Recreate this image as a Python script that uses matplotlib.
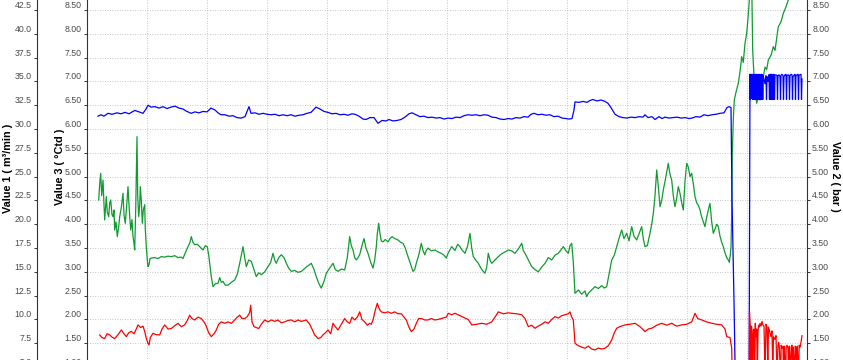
import matplotlib
matplotlib.use("Agg")
import matplotlib.pyplot as plt
from matplotlib.ticker import MultipleLocator, FormatStrFormatter

# ---------------- data (time in minutes) ----------------
# Value 2 (bar) - blue
blue_t_main = [11, 14, 17, 21, 25, 30, 34, 38, 42, 46, 48, 52, 56, 59, 61, 64, 68, 72, 76, 80,
               84, 88, 92, 96, 99, 104, 108, 112, 116, 120, 124, 128, 131, 134, 138, 142, 146, 150, 154, 158,
               162, 164, 168, 172, 176, 180, 184, 188, 192, 196, 200, 204, 208, 212, 216, 220, 224, 229, 233, 237,
               241, 245, 249, 253, 257, 261, 265, 268, 272, 276, 279, 283, 287, 291, 295, 299, 302, 306, 310, 314,
               318, 322, 325, 329, 333, 337, 341, 345, 349, 353, 357, 361, 365, 369, 373, 377, 381, 385, 389, 393,
               397, 401, 405, 409, 413, 417, 421, 425, 429, 433, 437, 441, 444, 447, 451, 455, 459, 463, 467, 471,
               475, 479, 482, 485, 487, 488, 492, 496, 500, 503, 506, 510, 514, 518, 521, 524, 528, 532, 536, 540,
               544, 548, 552, 556, 558, 561, 565, 568, 572, 575, 578, 582, 586, 590, 594, 598, 602, 605, 609, 613,
               617, 621, 625, 629, 633, 637, 640, 642, 644, 645, 647, 648, 649, 662]
blue_v_main = [6.27, 6.30, 6.27, 6.33, 6.31, 6.34, 6.32, 6.35, 6.32, 6.37, 6.39, 6.36, 6.33, 6.42, 6.50, 6.46, 6.47, 6.44, 6.47, 6.43,
               6.46, 6.48, 6.44, 6.42, 6.38, 6.33, 6.36, 6.34, 6.37, 6.36, 6.44, 6.40, 6.34, 6.30, 6.30, 6.27, 6.28, 6.24, 6.23, 6.26,
               6.47, 6.33, 6.34, 6.31, 6.33, 6.31, 6.30, 6.31, 6.28, 6.30, 6.28, 6.30, 6.27, 6.29, 6.30, 6.33, 6.35, 6.46, 6.42, 6.37,
               6.35, 6.32, 6.33, 6.30, 6.31, 6.29, 6.32, 6.31, 6.27, 6.21, 6.20, 6.24, 6.24, 6.12, 6.18, 6.17, 6.20, 6.17, 6.18, 6.20,
               6.25, 6.32, 6.34, 6.30, 6.26, 6.27, 6.24, 6.25, 6.23, 6.24, 6.21, 6.23, 6.22, 6.25, 6.24, 6.28, 6.30, 6.29, 6.30, 6.28,
               6.30, 6.29, 6.25, 6.24, 6.21, 6.20, 6.22, 6.21, 6.24, 6.23, 6.26, 6.25, 6.31, 6.33, 6.30, 6.31, 6.29, 6.30, 6.26, 6.27,
               6.23, 6.22, 6.21, 6.22, 6.40, 6.57, 6.56, 6.58, 6.56, 6.60, 6.62, 6.59, 6.61, 6.58, 6.54, 6.45, 6.31, 6.26, 6.24, 6.23,
               6.25, 6.24, 6.26, 6.25, 6.30, 6.24, 6.26, 6.20, 6.26, 6.22, 6.25, 6.23, 6.24, 6.25, 6.23, 6.24, 6.22, 6.23, 6.26, 6.25,
               6.30, 6.28, 6.30, 6.31, 6.33, 6.34, 6.45, 6.47, 6.45, 4.51, 2.40, 1.10, 0.0, 0.0]
blue_t_osc = [663.0, 663.25, 663.5, 663.75, 664.0, 664.25, 664.5, 664.75, 665.0, 665.25,
              665.5, 665.75, 666.0, 666.25, 666.5, 666.75, 667.0, 667.25, 667.5, 667.75,
              668.0, 668.25, 668.5, 668.75, 669.0, 669.25, 669.5, 669.75, 670.0, 670.25,
              670.5, 670.75, 671.0, 671.25, 671.5, 671.75, 672.0, 672.25, 672.5, 672.75,
              673.0, 673.25, 673.5, 673.75, 674.0, 674.25, 674.5, 674.75, 675.0, 675.25,
              675.5, 675.75, 676.0,
              677, 678, 679, 679.5, 680, 681, 682,
              682.5, 682.75, 683.0, 683.25, 683.5, 683.75, 684.0, 684.25, 684.5, 684.75,
              685.0, 685.25, 685.5, 685.75, 686.0, 686.25, 686.5, 686.75, 687.0, 687.25, 687.5,
              688, 689, 690, 690.5, 691, 692, 693, 693.5, 694, 695, 696, 696.5, 697, 698, 699, 699.5,
              700, 701, 702, 702.5, 703, 704, 705, 705.5, 706, 707, 708, 708.5, 709, 710, 711, 711.5,
              712, 713, 714, 714.5, 715]
blue_v_osc = [7.15, 6.62, 7.12, 6.70, 7.15, 6.64, 7.10, 6.66, 7.14, 6.80,
              7.15, 6.62, 7.12, 6.68, 7.15, 6.75, 7.13, 6.62, 7.10, 6.70,
              7.15, 6.64, 7.08, 6.62, 7.12, 6.72, 7.15, 6.62, 7.13, 6.66,
              7.10, 6.62, 7.15, 6.70, 7.12, 6.62, 7.14, 6.78, 7.10, 6.62,
              7.15, 6.66, 7.12, 6.62, 7.13, 6.74, 7.15, 6.62, 7.10, 6.68,
              7.14, 6.62, 7.12,
              7.05, 6.95, 7.12, 6.62, 7.10, 7.00, 7.14,
              6.62, 7.10, 6.64, 7.15, 6.62, 7.12, 6.68, 7.15, 6.62, 7.13,
              6.70, 7.14, 6.62, 7.12, 6.66, 7.15, 6.62, 7.10, 6.72, 7.14, 6.62,
              7.13, 7.14, 7.12, 6.62, 7.12, 7.14, 7.10, 6.62, 7.13, 7.15, 7.12, 6.62, 7.10, 7.14, 7.15, 6.62,
              7.12, 7.14, 7.13, 6.62, 7.12, 7.15, 7.14, 6.62, 7.10, 7.13, 7.15, 6.62, 7.12, 7.14, 7.15, 6.62,
              7.13, 7.14, 7.15, 6.62, 7.05]

# Value 3 (°Ctd) - green
green_t = [11.7, 12.7, 13.7, 14.7, 16, 17, 17.7, 19.3, 20.3, 21.7, 22.7, 23.7, 25, 26, 27, 27.7, 29, 30.3, 31.7, 32.7,
           34.3, 36, 37, 38.3, 39.7, 41, 42.3, 43.7, 45, 46, 47, 47.7, 48.7, 50, 50.7, 51.7, 52.7, 53.3, 54.3, 55.3,
           56.3, 57.7, 58.3, 59.3, 60.3, 61, 62, 63, 64.3, 67.7, 71, 74.3, 77.7, 81, 84.3, 87.7, 91, 94.3, 96, 98.3,
           101, 102.7, 104.3, 106, 107.7, 110.3, 112.7, 116, 118.3, 120.3, 121.7, 122.7, 124.3, 126, 128.3, 131, 132.7, 134.3, 136, 138.3,
           141, 144.3, 147.7, 150.3, 152.7, 154.3, 156, 157.7, 159.3, 161.7, 164.3, 167, 169.3, 171.7, 174.3, 177.7, 181, 183.7, 186, 187.7,
           189.3, 191.7, 194.3, 197, 199.3, 201.7, 204.3, 207.7, 211, 214.3, 219.3, 224.3, 227, 229.3, 231.7, 234.3, 237, 239.3, 242.7, 246,
           248.3, 251, 254.3, 257.7, 260.3, 262.7, 264.3, 266, 267.7, 269.3, 271, 272.7, 275, 277, 279, 281, 283.7, 286, 287.7, 289.3,
           290.3, 291.7, 293, 294.3, 296, 298.3, 301, 303, 305, 307.7, 311, 313.7, 316, 318.3, 321, 323.7, 326, 327.7, 329.3, 331.7,
           334.3, 336, 337.7, 339.3, 341, 344.3, 347.7, 351, 354.3, 357, 359.3, 361.3, 364.7, 368, 370.7, 373, 375.3, 378, 380.7, 383,
           384.7, 386.3, 388.7, 391.3, 394.7, 398, 399.7, 401.3, 403, 404.7, 408, 411.3, 414.7, 418, 421.3, 424.7, 428, 431.3, 434.7, 436.3,
           438, 441.3, 444.7, 448, 451.3, 454.7, 458, 461.3, 464.7, 468, 471.3, 474.7, 476.3, 478.7, 481.3, 483, 484.7, 486.3, 488, 491.3,
           494.7, 498, 499.7, 501.3, 504.7, 508, 511.3, 514.7, 517.3, 519.7, 522, 524.7, 527.3, 529.7, 532, 534.7, 537, 539.7, 542, 544.7,
           547, 549.7, 552, 554.7, 556.3, 558, 560.3, 563, 564.7, 566.3, 568, 569.7, 571.3, 573, 574.7, 576.3, 578, 579.7, 581.3, 583,
           584.7, 586.3, 588, 589.7, 591.3, 593, 594.7, 596.3, 598, 599.7, 601.3, 603, 604.7, 606.3, 608, 609.7, 611.3, 613, 614.7, 616.3,
           618, 619.7, 621.3, 623, 624.7, 626.3, 628, 629.7, 631.3, 633, 634.7, 636.3, 638, 639.7, 641.3, 642.3, 643.3, 644, 644.7, 645.3,
           646.3, 647.3, 649.3, 651.3, 653, 654.7, 656.3, 658, 659.7, 661.3, 663, 664.7, 665.7, 667.3, 669.7, 671.3, 673, 674.7, 676.3, 678,
           679.7, 681.3, 684, 686.3, 688, 689.7, 691.3, 694, 696.3, 698.7, 701.3, 704.7, 708, 712, 716]
green_v = [4.51, 4.85, 5.07, 4.60, 4.93, 4.40, 4.09, 4.58, 4.25, 4.16, 4.45, 4.51, 4.20, 4.16, 4.30, 3.88, 4.05, 3.74, 3.95, 4.16,
           4.35, 4.65, 4.20, 4.02, 4.40, 4.79, 4.30, 3.88, 4.10, 3.74, 3.60, 3.46, 4.30, 5.84, 4.60, 4.16, 4.40, 4.79, 4.50, 4.02,
           4.30, 4.41, 3.90, 3.53, 3.25, 3.11, 3.15, 3.28, 3.29, 3.30, 3.28, 3.32, 3.31, 3.33, 3.32, 3.34, 3.30, 3.31, 3.28, 3.40,
           3.53, 3.60, 3.74, 3.62, 3.57, 3.58, 3.53, 3.46, 3.55, 3.53, 3.35, 3.18, 2.90, 2.69, 2.75, 2.76, 2.88, 2.78, 2.80, 2.72,
           2.72, 2.78, 2.83, 2.95, 3.18, 3.35, 3.53, 3.30, 3.11, 3.25, 3.22, 3.05, 2.90, 2.98, 2.94, 3.00, 3.11, 3.20, 3.39, 3.25,
           3.18, 3.30, 3.36, 3.30, 3.18, 3.08, 3.01, 3.03, 2.99, 3.01, 3.10, 3.18, 3.05, 2.90, 2.76, 2.66, 2.80, 2.97, 3.08, 3.18,
           3.05, 3.01, 3.06, 3.04, 3.30, 3.74, 3.55, 3.46, 3.30, 3.25, 3.30, 3.36, 3.55, 3.70, 3.50, 3.39, 3.20, 3.08, 3.25, 3.53,
           3.80, 4.02, 3.80, 3.65, 3.63, 3.68, 3.63, 3.70, 3.74, 3.70, 3.67, 3.62, 3.60, 3.50, 3.32, 3.15, 3.01, 3.05, 3.18, 3.35,
           3.60, 3.45, 3.36, 3.45, 3.50, 3.44, 3.46, 3.42, 3.39, 3.35, 3.29, 3.40, 3.53, 3.45, 3.58, 3.53, 3.45, 3.39, 3.55, 3.81,
           3.50, 3.32, 3.25, 3.18, 3.05, 2.97, 3.10, 3.39, 3.25, 3.18, 3.25, 3.32, 3.38, 3.42, 3.46, 3.44, 3.39, 3.48, 3.60, 3.45,
           3.39, 3.25, 3.11, 3.05, 3.00, 3.10, 3.18, 3.30, 3.25, 3.35, 3.39, 3.48, 3.53, 3.45, 3.39, 3.55, 3.60, 3.20, 2.55, 2.62,
           2.53, 2.60, 2.48, 2.55, 2.62, 2.69, 2.65, 2.71, 2.66, 2.69, 2.95, 3.25, 3.35, 3.53, 3.70, 3.88, 3.70, 3.81, 3.65, 3.95,
           3.75, 3.67, 3.80, 3.95, 3.70, 3.53, 3.55, 3.81, 4.00, 4.23, 4.60, 5.14, 4.80, 4.37, 4.50, 4.72, 4.90, 5.10, 5.28, 5.05,
           4.93, 4.60, 4.37, 4.55, 4.79, 4.65, 4.45, 4.30, 4.90, 5.28, 5.20, 5.00, 5.07, 4.85, 4.58, 4.45, 4.40, 4.30, 4.15, 4.05,
           3.95, 4.15, 4.30, 4.44, 4.05, 3.81, 3.90, 4.00, 3.95, 3.75, 3.62, 3.53, 3.40, 3.30, 3.25, 3.20, 3.35, 3.53, 4.20, 5.49,
           6.20, 6.61, 6.80, 6.96, 7.20, 7.52, 7.40, 7.80, 8.01, 8.40, 8.90, 9.10, 7.65, 7.00, 6.54, 6.70, 6.61, 6.90, 7.10, 7.30,
           7.25, 7.45, 7.55, 7.73, 7.65, 7.90, 8.15, 8.25, 8.43, 8.55, 8.71, 8.85, 9.00, 9.10, 9.20]

# Value 1 (m³/min) - red
red_t_main = [12.7, 15, 17.7, 20, 22.7, 25, 27.7, 31, 34.3, 37, 39.3, 41.7, 44.3, 47, 49.3, 51, 53.7, 56, 57.7, 59.3,
              61, 62, 63.3, 66, 69.3, 72.7, 75, 77.7, 81, 84.3, 87.7, 91, 94.3, 97.7, 100.3, 102.7, 105, 107.7, 111, 114.3,
              117, 119.3, 121.7, 124.3, 127, 129.3, 131.7, 134.3, 137.7, 141, 144.3, 147.7, 150.3, 152.7, 155, 157.7, 160.3, 162.7, 163.7, 165,
              167, 169.3, 171.7, 174.3, 177.7, 181, 184.3, 187.7, 191, 194.3, 197.7, 201, 204.3, 207.7, 211, 214.3, 219.3, 222.7, 225, 227.7,
              231, 233.7, 236, 238.3, 241, 243.7, 246, 248.3, 251, 254.3, 257.7, 260.3, 262.7, 265, 267.7, 270.3, 272.7, 275, 277.7, 280.3,
              282.7, 284.3, 286, 288.3, 290.3, 292.3, 294.3, 297.7, 301, 304.3, 307.7, 311, 314.3, 317, 319.3, 321.7, 324.3, 327, 329.3, 331.7,
              334.3, 337.7, 341, 344.3, 347.7, 351, 354.3, 359.3, 361.3, 364.7, 368, 373, 378, 381.3, 384.7, 389.7, 394.7, 399.7, 404.7, 408,
              411.3, 416.3, 421.3, 424.7, 429.7, 434.7, 438, 441.3, 444.7, 448, 451.3, 454.7, 458, 461.3, 464.7, 468, 471.3, 474.7, 478, 481.3,
              483, 484.7, 486.3, 488, 491.3, 494.7, 498, 501.3, 504.7, 508, 511.3, 514.7, 518, 521.3, 524.7, 527.3, 529.7, 533, 538, 543,
              548, 553, 558, 561.3, 564.7, 569.7, 574.7, 579.7, 584.7, 589.7, 594.7, 599.7, 604.7, 608, 610.7, 614.7, 619.7, 624.7, 629.7, 634.7,
              638, 639.7, 643, 644.7, 646]
red_v_main = [8.38, 8.10, 8.00, 8.50, 8.38, 8.15, 8.00, 8.40, 8.90, 8.50, 8.20, 8.60, 8.75, 8.50, 9.00, 9.43, 9.15, 9.30, 8.75, 8.00,
              7.50, 7.33, 8.10, 8.55, 8.40, 8.38, 9.00, 9.43, 9.00, 9.05, 9.35, 9.60, 9.25, 9.43, 9.90, 10.45, 10.10, 9.95, 10.25, 10.10,
              9.75, 9.30, 8.60, 8.20, 8.50, 8.90, 9.50, 9.75, 9.60, 9.75, 9.60, 9.95, 10.25, 10.45, 10.10, 10.10, 10.30, 10.75, 11.50, 9.75,
              9.25, 9.15, 9.05, 9.50, 9.95, 9.75, 9.95, 9.80, 9.95, 9.65, 9.75, 9.90, 9.95, 9.75, 9.95, 9.80, 9.95, 9.50, 9.00, 8.38,
              8.00, 8.10, 8.38, 8.60, 8.90, 8.50, 9.60, 9.25, 8.90, 9.50, 10.10, 9.75, 9.60, 10.25, 9.95, 10.25, 10.80, 10.00, 9.75, 9.40,
              9.60, 9.50, 9.95, 11.00, 11.70, 11.10, 10.80, 10.70, 10.80, 10.65, 10.80, 10.60, 10.60, 10.25, 9.95, 9.25, 8.73, 9.00, 9.60, 10.10,
              10.10, 9.95, 9.95, 10.10, 9.95, 10.00, 10.10, 10.25, 10.65, 10.50, 10.65, 10.40, 10.15, 10.00, 9.43, 9.50, 9.60, 9.50, 9.75, 10.25,
              10.80, 10.60, 10.70, 10.65, 10.60, 10.50, 10.10, 9.25, 9.40, 9.08, 9.30, 9.50, 9.75, 9.60, 10.00, 10.30, 10.15, 10.40, 10.50, 10.60,
              10.80, 10.25, 9.95, 7.50, 7.25, 7.10, 6.98, 7.20, 6.90, 6.80, 7.00, 6.90, 6.98, 7.25, 7.85, 8.60, 9.08, 9.25, 9.43, 9.50,
              9.60, 9.25, 8.73, 9.00, 9.08, 9.40, 9.60, 9.40, 9.60, 9.30, 9.43, 9.50, 9.75, 10.65, 10.10, 9.95, 9.75, 9.60, 9.50, 9.43,
              9.00, 8.20, 8.10, 7.00, 0.0]
red_t_tail = [662, 662.5, 663, 663.5, 664, 664.5, 665, 665.7, 666.3, 667,
              667.6, 668.3, 669, 669.7, 670.3, 671, 671.6, 672.3, 673, 674,
              675, 676, 677, 678, 679, 680, 680.8, 681.5, 683, 684,
              685, 685.8, 686.5, 688, 689, 690, 691, 691.6, 692.3, 693.5,
              694.2, 695, 696, 696.6, 697.3, 698.5, 699.2, 700, 701, 701.6,
              702.3, 703.5, 704.2, 705, 705.6, 706.3, 707.5, 708.2, 709, 709.6,
              710.3, 711.5, 712.2, 713, 714, 715]
red_v_tail = [0.0, 10.80, 9.60, 9.20, 4.0, 9.30, 8.30, 4.0, 8.90, 9.0,
              4.0, 9.60, 8.20, 9.0, 4.0, 8.80, 9.40, 9.20, 9.60, 9.30,
              9.80, 9.40, 9.30, 4.5, 9.50, 9.20, 5.0, 9.20, 8.60, 8.20,
              8.80, 4.5, 8.20, 7.90, 8.30, 4.0, 7.30, 7.60, 7.20, 4.0,
              7.30, 7.00, 7.20, 4.0, 7.20, 4.0, 7.10, 7.30, 7.00, 4.0,
              7.20, 4.0, 7.10, 7.30, 4.0, 7.10, 4.0, 7.20, 7.00, 4.0,
              7.20, 4.0, 7.30, 7.10, 7.60, 8.30]

blue_t = blue_t_main + blue_t_osc
blue_v = blue_v_main + blue_v_osc
red_t = red_t_main + red_t_tail
red_v = red_v_main + red_v_tail

v1_ticks_step = 2.5
v23_ticks_step = 0.5

# ---------------- figure ----------------
W, H = 843, 360
fig = plt.figure(figsize=(W / 100, H / 100), dpi=100)
ax3 = fig.add_axes([87 / W, -0.08586, 720 / W, 1.12422])
ax2 = ax3.twinx()
ax1 = ax3.twinx()

grey = "#4a4a4a"
LW = 0.9

ax3.plot(green_t, green_v, color="#109a30", lw=LW)
ax2.plot(blue_t, blue_v, color="#0000ff", lw=LW)
ax1.plot(red_t, red_v, color="#ff0000", lw=LW)

for a in (ax1, ax2, ax3):
    a.set_xlim(0, 720)
    a.patch.set_visible(False)
    for s in a.spines.values():
        s.set_visible(False)

ax3.set_ylim(0.5, 9.0)
ax2.set_ylim(0.5, 9.0)
ax1.set_ylim(2.5, 45.0)

ax3.xaxis.set_major_locator(MultipleLocator(60))
ax3.grid(True, linestyle=(0, (1, 2)), color="#b4b4b4", lw=0.6)
ax3.set_axisbelow(True)

# Value 3 axis (inner left)
ax3.spines["left"].set_visible(True)
ax3.yaxis.set_major_locator(MultipleLocator(v23_ticks_step))
ax3.yaxis.set_major_formatter(FormatStrFormatter("%.2f"))

# Value 2 axis (right)
ax2.spines["right"].set_visible(True)
ax2.yaxis.set_major_locator(MultipleLocator(v23_ticks_step))
ax2.yaxis.set_major_formatter(FormatStrFormatter("%.2f"))

# Value 1 axis (outer left)
ax1.yaxis.set_ticks_position("left")
ax1.spines["left"].set_visible(True)
ax1.spines["left"].set_position(("axes", -50.3 / 720))
ax1.yaxis.set_major_locator(MultipleLocator(v1_ticks_step))
ax1.yaxis.set_major_formatter(FormatStrFormatter("%.1f"))

for a in (ax1, ax2, ax3):
    for s in a.spines.values():
        s.set_color("#333333")
        s.set_linewidth(0.8)
    a.tick_params(axis="y", length=2.5, width=0.7, color="#333333", pad=1.2,
                  labelcolor=grey, labelsize=6.3)
    a.tick_params(axis="x", bottom=False, top=False, labelbottom=False, labeltop=False)

fig.canvas.draw()
for a in (ax1, ax2, ax3):
    for lbl in a.get_yticklabels():
        lbl.set_fontfamily("Liberation Sans")
        lbl.set_verticalalignment("bottom")

label_kw = dict(fontsize=7.8, fontweight="bold", family="Liberation Sans", ha="center", va="center")
fig.text(8 / W, 1 - 168 / H, "Value 1 ( m³/min )", rotation=90, **label_kw)
fig.text(60 / W, 1 - 167 / H, "Value 3 ( °Ctd )", rotation=90, **label_kw)
fig.text(835 / W, 1 - 176 / H, "Value 2 ( bar )", rotation=270, **label_kw)

fig.savefig("out.png", dpi=100)
